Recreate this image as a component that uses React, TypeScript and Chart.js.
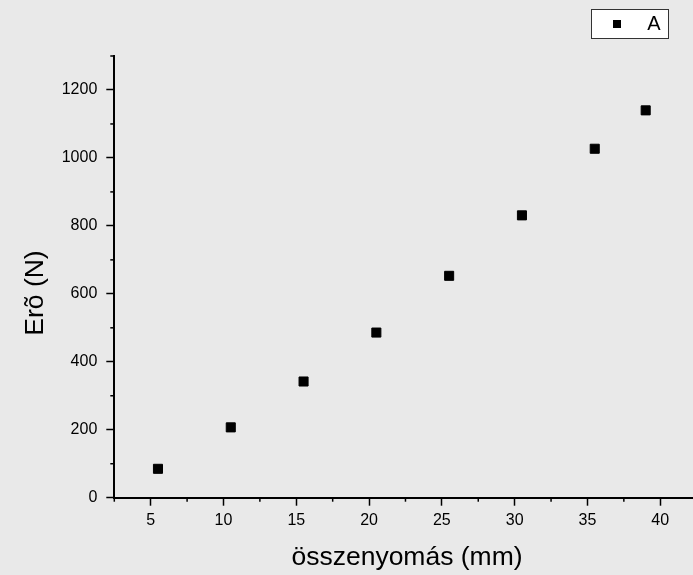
import React, { useEffect, useRef } from "react";
import { Chart, registerables } from "chart.js";

Chart.register(...registerables);

const xValues = [5.5, 10.5, 15.5, 20.5, 25.5, 30.5, 35.5, 39];
const yValues = [85, 207, 342, 486, 653, 831, 1027, 1140];
const xMajorTicks = [5, 10, 15, 20, 25, 30, 35, 40];
const xMinorTicks = [2.5, 7.5, 12.5, 17.5, 22.5, 27.5, 32.5, 37.5];
const yMajorTicks = [0, 200, 400, 600, 800, 1000, 1200];
const yMinorTicks = [100, 300, 500, 700, 900, 1100, 1300];
const seriesName = "A";
const xTitle = "összenyomás (mm)";
const yTitle = "Erõ (N)";

const FONT = "'Liberation Sans', Arial, sans-serif";
const BG = "#e9e9e9";

export default function App() {
  const ref = useRef<HTMLCanvasElement | null>(null);

  useEffect(() => {
    if (!ref.current) return;
    const decor = {
      id: "decor",
      beforeDraw(chart: any) {
        const ctx = chart.ctx;
        ctx.save();
        ctx.fillStyle = BG;
        ctx.fillRect(0, 0, chart.width, chart.height);
        ctx.restore();
      },
      afterDraw(chart: any) {
        const ctx = chart.ctx;
        const xs = chart.scales.x;
        const ys = chart.scales.y;
        ctx.save();
        ctx.strokeStyle = "#000";
        ctx.lineWidth = 1.5;
        const axX = chart.chartArea.left;
        const axY = chart.chartArea.bottom;
        yMinorTicks.forEach((v) => {
          const p = ys.getPixelForValue(v);
          ctx.beginPath();
          ctx.moveTo(axX - 4, p);
          ctx.lineTo(axX, p);
          ctx.stroke();
        });
        xMinorTicks.forEach((v) => {
          const p = xs.getPixelForValue(v);
          ctx.beginPath();
          ctx.moveTo(p, axY);
          ctx.lineTo(p, axY + 4);
          ctx.stroke();
        });
        // axis titles
        ctx.fillStyle = "#000";
        ctx.font = `26.5px ${FONT}`;
        ctx.textAlign = "center";
        ctx.textBaseline = "alphabetic";
        ctx.fillText(xTitle, 407, 565);
        ctx.save();
        ctx.translate(43, 293);
        ctx.rotate(-Math.PI / 2);
        ctx.fillText(yTitle, 0, 0);
        ctx.restore();
        // legend
        ctx.fillStyle = "#fff";
        ctx.fillRect(591, 9, 77, 29);
        ctx.strokeStyle = "#333";
        ctx.lineWidth = 1;
        ctx.strokeRect(591.5, 9.5, 77, 29);
        ctx.fillStyle = "#000";
        ctx.fillRect(613, 20, 8, 8);
        ctx.font = `20px ${FONT}`;
        ctx.textAlign = "center";
        ctx.textBaseline = "middle";
        ctx.fillText(seriesName, 654, 24);
        ctx.restore();
      },
    };

    const chart = new Chart(ref.current, {
      type: "scatter",
      data: {
        datasets: [
          {
            label: seriesName,
            data: xValues.map((x, i) => ({ x, y: yValues[i] })),
            pointStyle: "rect",
            pointRadius: 6.4,
            borderWidth: 1,
            backgroundColor: "#000",
            borderColor: "#000",
          },
        ],
      },
      options: {
        responsive: false,
        animation: false,
        events: [],
        layout: { autoPadding: false, padding: { top: 56, right: 0, left: 0, bottom: 0 } },
        plugins: { legend: { display: false }, tooltip: { enabled: false } },
        scales: {
          x: {
            type: "linear",
            min: 2.5,
            max: 42.25,
            afterBuildTicks: (s: any) => {
              s.ticks = xMajorTicks.map((v) => ({ value: v }));
            },
            afterFit: (s: any) => {
              s.height = 77.3;
              s.paddingLeft = 0;
              s.paddingRight = 0;
            },
            border: { display: true, color: "#000", width: 2 },
            grid: {
              drawOnChartArea: false,
              drawTicks: true,
              tickLength: 8,
              tickColor: "#000",
              tickWidth: 1.5,
            },
            ticks: {
              color: "#000",
              font: { family: FONT, size: 16 },
              padding: 5,
              maxRotation: 0,
              callback: (v: any) => String(v),
            },
          },
          y: {
            type: "linear",
            min: 0,
            max: 1300,
            afterBuildTicks: (s: any) => {
              s.ticks = yMajorTicks.map((v) => ({ value: v }));
            },
            afterFit: (s: any) => {
              s.width = 114.3;
              s.paddingTop = 0;
              s.paddingBottom = 0;
            },
            border: { display: true, color: "#000", width: 2 },
            grid: {
              drawOnChartArea: false,
              drawTicks: true,
              tickLength: 8,
              tickColor: "#000",
              tickWidth: 1.5,
            },
            ticks: {
              color: "#000",
              font: { family: FONT, size: 16 },
              padding: 9,
              callback: (v: any) => String(v),
            },
          },
        },
      },
      plugins: [decor],
    });
    return () => chart.destroy();
  }, []);

  return (
    <div style={{ position: "absolute", left: 0, top: 0, width: 693, height: 575, background: BG }}>
      <canvas ref={ref} width={693} height={575} style={{ display: "block" }} />
    </div>
  );
}
